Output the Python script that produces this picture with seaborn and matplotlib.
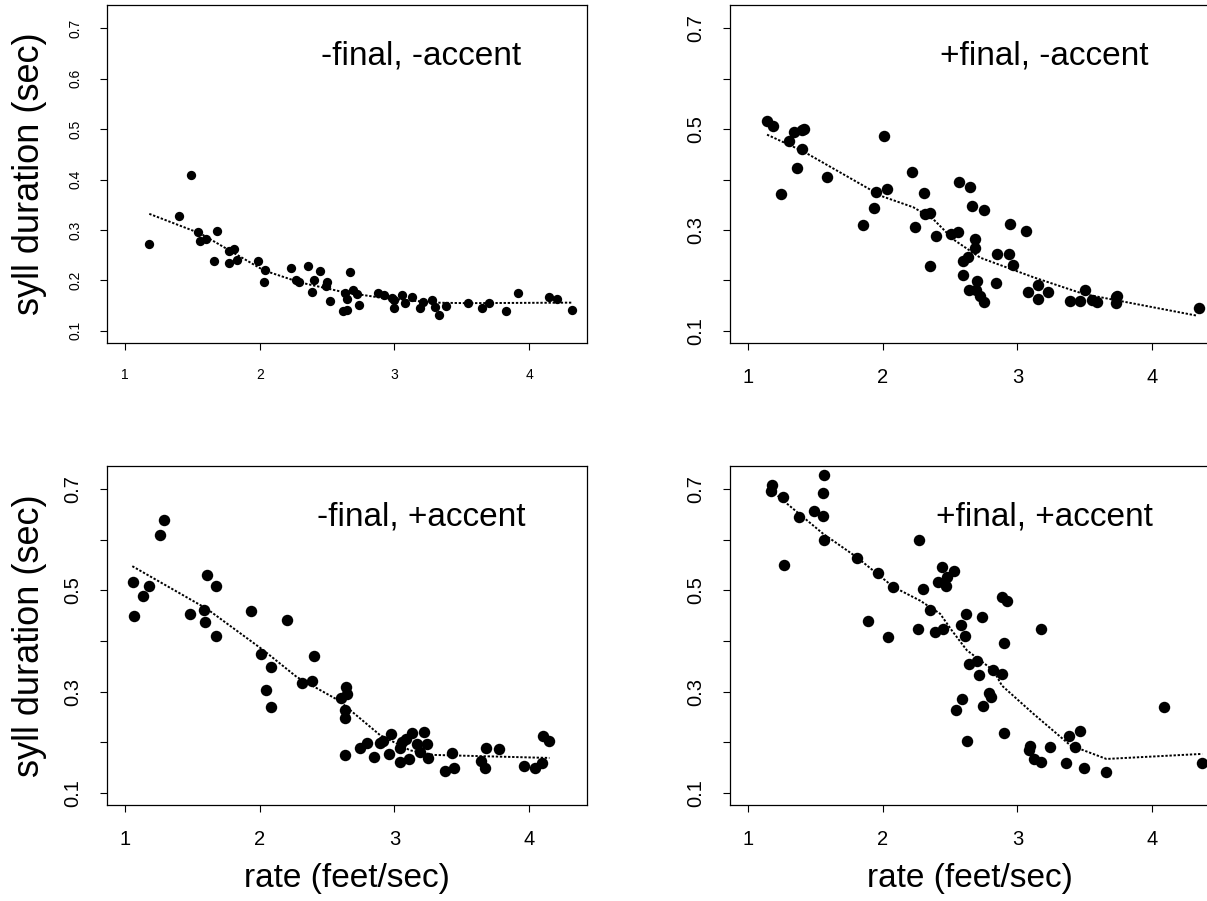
import pandas as pd
import matplotlib
matplotlib.use("Agg")
import matplotlib.pyplot as plt
import seaborn as sns

# ---- data ----
# -final, -accent
rate_a = [1.18, 1.49, 1.40, 1.54, 1.56, 1.60, 1.68, 1.66, 1.77, 1.77, 1.81, 1.83, 1.99, 2.04,
          2.03, 2.23, 2.27, 2.29, 2.36, 2.40, 2.39, 2.45, 2.50, 2.49, 2.52, 2.67, 2.63, 2.69,
          2.65, 2.72, 2.74, 2.62, 2.65, 2.88, 2.92, 2.98, 3.00, 3.00, 3.06, 3.08, 3.13, 3.19,
          3.21, 3.28, 3.30, 3.33, 3.38, 3.55, 3.65, 3.70, 3.83, 3.92, 4.15, 4.21, 4.32]
dur_a = [0.273, 0.410, 0.327, 0.296, 0.278, 0.282, 0.299, 0.238, 0.235, 0.258, 0.263, 0.241,
         0.238, 0.221, 0.196, 0.225, 0.201, 0.197, 0.228, 0.200, 0.178, 0.218, 0.197, 0.189,
         0.160, 0.217, 0.176, 0.182, 0.164, 0.174, 0.151, 0.139, 0.142, 0.176, 0.171, 0.165,
         0.146, 0.162, 0.172, 0.155, 0.167, 0.146, 0.157, 0.162, 0.147, 0.131, 0.149, 0.156,
         0.146, 0.156, 0.140, 0.176, 0.168, 0.163, 0.141]
fit_rate_a = [1.18, 1.56, 2.03, 2.30, 2.62, 2.92, 3.30, 3.53, 4.32]
fit_dur_a = [0.332, 0.293, 0.220, 0.196, 0.177, 0.165, 0.156, 0.155, 0.156]

# +final, -accent
rate_b = [1.141, 1.186, 1.241, 1.303, 1.340, 1.360, 1.404, 1.417, 1.400, 1.583, 1.851, 1.935,
          1.950, 2.012, 2.030, 2.221, 2.241, 2.303, 2.315, 2.352, 2.352, 2.397, 2.509, 2.556,
          2.568, 2.645, 2.660, 2.749, 2.687, 2.687, 2.596, 2.635, 2.596, 2.638, 2.700, 2.690,
          2.725, 2.754, 2.849, 2.844, 2.934, 2.945, 2.965, 3.065, 3.079, 3.154, 3.154, 3.228,
          3.387, 3.464, 3.499, 3.556, 3.588, 3.730, 3.730, 3.737, 4.347]
dur_b = [0.517, 0.506, 0.371, 0.476, 0.495, 0.422, 0.499, 0.500, 0.460, 0.405, 0.310, 0.343,
         0.376, 0.487, 0.382, 0.414, 0.305, 0.373, 0.331, 0.333, 0.229, 0.288, 0.293, 0.297,
         0.396, 0.386, 0.347, 0.340, 0.283, 0.265, 0.238, 0.246, 0.211, 0.181, 0.199, 0.181,
         0.170, 0.157, 0.253, 0.194, 0.253, 0.311, 0.231, 0.299, 0.178, 0.191, 0.163, 0.178,
         0.159, 0.159, 0.181, 0.162, 0.157, 0.168, 0.155, 0.170, 0.146]
fit_rate_b = [1.141, 1.409, 1.993, 2.228, 2.377, 2.526, 2.725, 3.122, 3.494, 4.337]
fit_dur_b = [0.489, 0.456, 0.367, 0.345, 0.321, 0.281, 0.245, 0.206, 0.173, 0.130]

# -final, +accent
rate_c = [1.062, 1.069, 1.136, 1.176, 1.260, 1.290, 1.480, 1.589, 1.597, 1.606, 1.676, 1.676,
          1.938, 2.012, 2.087, 2.047, 2.087, 2.203, 2.314, 2.389, 2.406, 2.604, 2.639, 2.646,
          2.634, 2.634, 2.636, 2.745, 2.795, 2.849, 2.894, 2.913, 2.963, 2.975, 3.042, 3.054,
          3.042, 3.087, 3.111, 3.134, 3.166, 3.190, 3.240, 3.220, 3.248, 3.379, 3.443, 3.428,
          3.641, 3.673, 3.681, 3.777, 3.963, 4.047, 4.099, 4.101, 4.146]
dur_c = [0.517, 0.449, 0.490, 0.509, 0.610, 0.639, 0.454, 0.462, 0.438, 0.531, 0.509, 0.411,
         0.459, 0.374, 0.349, 0.304, 0.270, 0.442, 0.317, 0.322, 0.371, 0.288, 0.309, 0.296,
         0.263, 0.248, 0.175, 0.188, 0.199, 0.171, 0.199, 0.202, 0.176, 0.216, 0.188, 0.200,
         0.161, 0.206, 0.167, 0.218, 0.197, 0.181, 0.196, 0.220, 0.169, 0.144, 0.150, 0.179,
         0.163, 0.149, 0.188, 0.186, 0.153, 0.150, 0.159, 0.212, 0.202]
fit_rate_c = [1.054, 1.606, 2.027, 2.275, 2.584, 2.894, 3.117, 3.290, 4.151]
fit_dur_c = [0.548, 0.464, 0.382, 0.329, 0.283, 0.214, 0.184, 0.175, 0.169]

# +final, +accent
rate_d = [1.179, 1.174, 1.258, 1.379, 1.491, 1.558, 1.558, 1.565, 1.563, 1.268, 1.806, 1.967,
          2.079, 1.893, 2.041, 2.272, 2.302, 2.260, 2.351, 2.391, 2.451, 2.443, 2.530, 2.475,
          2.408, 2.468, 2.579, 2.617, 2.612, 2.736, 2.644, 2.699, 2.713, 2.822, 2.889, 2.887,
          2.922, 2.904, 2.788, 2.805, 2.592, 2.545, 2.743, 2.629, 2.902, 3.177, 3.090, 3.088,
          3.120, 3.175, 3.244, 3.363, 3.383, 3.425, 3.462, 3.497, 3.661, 4.087, 4.372]
dur_d = [0.709, 0.697, 0.684, 0.645, 0.657, 0.648, 0.693, 0.728, 0.600, 0.550, 0.564, 0.535,
         0.507, 0.440, 0.408, 0.600, 0.502, 0.424, 0.462, 0.418, 0.424, 0.546, 0.539, 0.527,
         0.517, 0.509, 0.432, 0.454, 0.411, 0.448, 0.355, 0.360, 0.333, 0.342, 0.334, 0.487,
         0.480, 0.396, 0.298, 0.289, 0.285, 0.264, 0.272, 0.202, 0.218, 0.424, 0.192, 0.184,
         0.167, 0.160, 0.190, 0.159, 0.212, 0.190, 0.222, 0.149, 0.141, 0.270, 0.159]
fit_rate_d = [1.174, 1.260, 1.558, 1.806, 2.079, 2.277, 2.426, 2.513, 2.624, 2.822, 2.885,
              3.120, 3.393, 3.661, 4.372]
fit_dur_d = [0.698, 0.678, 0.612, 0.566, 0.507, 0.480, 0.454, 0.421, 0.382, 0.342, 0.312,
             0.256, 0.194, 0.167, 0.177]

labels = ["-final, -accent", "+final, -accent", "-final, +accent", "+final, +accent"]
yticks = [0.1, 0.2, 0.3, 0.4, 0.5, 0.6, 0.7]

sns.set_style("white")
plt.rcParams['font.family'] = ['Liberation Sans', 'DejaVu Sans']
plt.rcParams['text.color'] = 'black'
plt.rcParams['axes.labelcolor'] = 'black'
plt.rcParams['xtick.color'] = 'black'
plt.rcParams['ytick.color'] = 'black'

fig = plt.figure(figsize=(12.07, 9.01), dpi=100)

# axes boxes in pixels: left, top, right, bottom
boxes = [(107, 5, 587, 343), (730, 5, 1210, 343),
         (107, 466, 587, 805), (730, 466, 1210, 805)]
panels = [(rate_a, dur_a, fit_rate_a, fit_dur_a),
          (rate_b, dur_b, fit_rate_b, fit_dur_b),
          (rate_c, dur_c, fit_rate_c, fit_dur_c),
          (rate_d, dur_d, fit_rate_d, fit_dur_d)]

for i, (box, (rx, dy, fx, fy)) in enumerate(zip(boxes, panels)):
    l, t, r, b = box
    ax = fig.add_axes([l / 1207, 1 - b / 901, (r - l) / 1207, (b - t) / 901])
    small = (i == 0)
    df = pd.DataFrame({'rate': rx, 'dur': dy})
    sns.scatterplot(data=df, x='rate', y='dur', ax=ax, color='black',
                    s=45 if small else 68, edgecolor='black', linewidth=0, zorder=3)
    fit = pd.DataFrame({'rate': fx, 'dur': fy})
    sns.lineplot(data=fit, x='rate', y='dur', ax=ax, color='black', lw=1.4,
                 linestyle=(0, (1.2, 0.9)), zorder=2)
    ax.set_xlim(0.866, 4.43)
    ax.set_ylim(0.076, 0.746)
    ax.set_xticks([1, 2, 3, 4])
    ax.set_yticks(yticks)
    if small:
        ax.set_yticklabels([str(v) for v in yticks])
        fs = 10
    else:
        ax.set_yticklabels([str(v) if k % 2 == 0 else '' for k, v in enumerate(yticks)])
        fs = 14.5
    ax.set_xticklabels(['1', '2', '3', '4'])
    ax.tick_params(axis='both', direction='out', length=5, width=0.8, color='black',
                   labelsize=fs, pad=13, left=True, bottom=True)
    for lab in ax.get_yticklabels():
        lab.set_rotation(90)
        lab.set_va('center')
    for sp in ax.spines.values():
        sp.set_color('black')
        sp.set_linewidth(0.9)
    ax.text(3.2, 0.645, labels[i], ha='center', va='center', fontsize=24)
    if i in (0, 2):
        ax.set_ylabel('syll duration (sec)', fontsize=26)
        ax.yaxis.set_label_coords(-0.124, 0.5)
    else:
        ax.set_ylabel('')
    if i in (2, 3):
        ax.set_xlabel('rate (feet/sec)', fontsize=24)
        ax.xaxis.set_label_coords(0.5, -0.172)
    else:
        ax.set_xlabel('')

fig.savefig('out.png', dpi=100, facecolor='white')
